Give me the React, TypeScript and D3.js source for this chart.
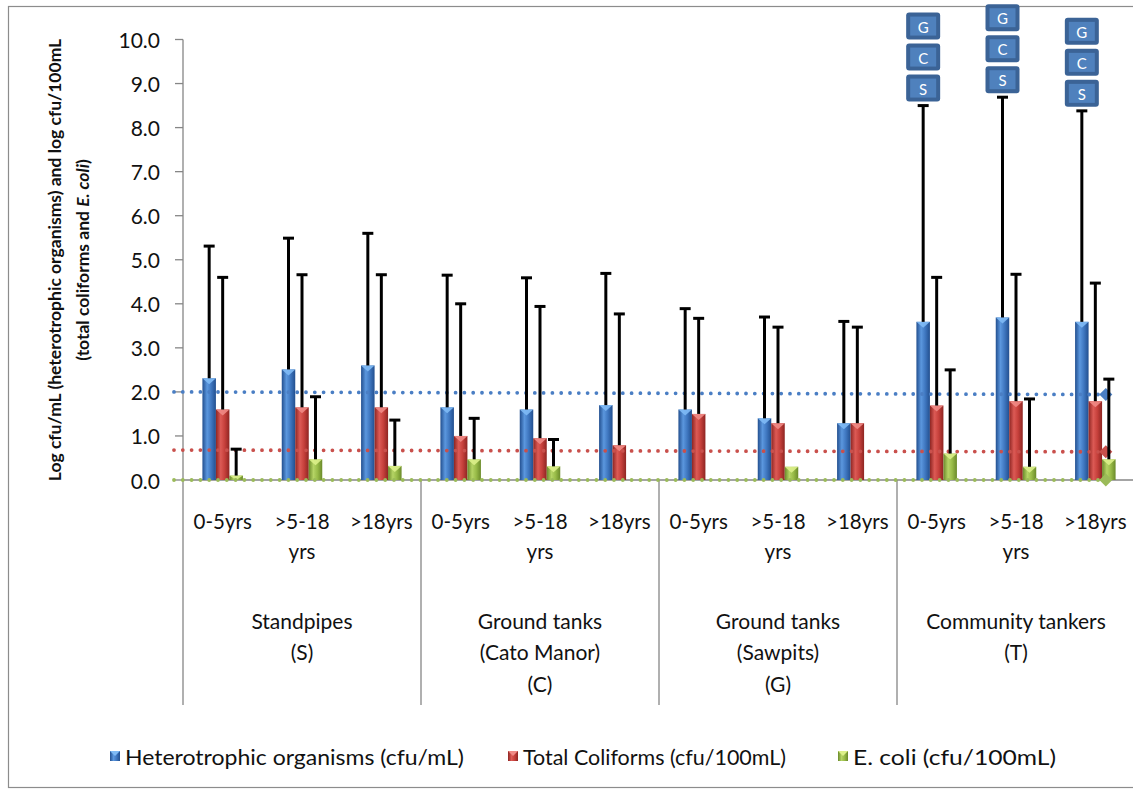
import React from "react";
import * as d3 from "d3";

const ageGroups = ["0-5yrs", ">5-18|yrs", ">18yrs"];
const sources = [
  ["Standpipes", "(S)"],
  ["Ground tanks", "(Cato Manor)", "(C)"],
  ["Ground tanks", "(Sawpits)", "(G)"],
  ["Community tankers", "(T)"],
];
const seriesNames = [
  "Heterotrophic organisms (cfu/mL)",
  "Total Coliforms (cfu/100mL)",
  "E. coli (cfu/100mL)",
];
const hetero = [2.31, 2.51, 2.6, 1.65, 1.6, 1.7, 1.6, 1.4, 1.29, 3.59, 3.69, 3.59];
const heteroUpper = [5.31, 5.49, 5.6, 4.65, 4.59, 4.69, 3.89, 3.7, 3.6, 8.5, 8.69, 8.38];
const coliform = [1.6, 1.65, 1.65, 1.0, 0.95, 0.79, 1.5, 1.29, 1.29, 1.69, 1.79, 1.79];
const coliformUpper = [4.6, 4.66, 4.66, 4.0, 3.94, 3.77, 3.67, 3.47, 3.47, 4.6, 4.67, 4.47];
const ecoli = [0.1, 0.47, 0.32, 0.47, 0.31, 0, 0, 0.3, 0, 0.6, 0.3, 0.47];
const ecoliUpper = [0.7, 1.89, 1.36, 1.4, 0.92, null, null, null, null, 2.5, 1.84, 2.29];
const guideStart = [2.0, 0.68, 0];
const guideEnd = [1.94, 0.64, 0];
const yTicks = [0, 1, 2, 3, 4, 5, 6, 7, 8, 9, 10];
const significance = ["S", "C", "G"];
const significanceCats = [9, 10, 11];

const colors = [
  { base: "#3f77c0", dark: "#224f8f", light: "#5b97de", tip: "#7fbaf5" },
  { base: "#c6403b", dark: "#8e2522", light: "#dc5a55", tip: "#f08a85" },
  { base: "#98bb48", dark: "#6a8a2a", light: "#b5d465", tip: "#dcf08a" },
];
const lineColors = ["#4a7ec4", "#c9504c", "#9bbb59"];

const FONT = "Lato, 'Open Sans', sans-serif";

export default function App() {
  const x0 = 183;
  const x1 = 1135;
  const cats = d3.range(12);
  const xBand = d3.scaleBand<number>().domain(cats).range([x0, x1]).padding(0);
  const inner = d3.scaleBand<number>().domain([0, 1, 2]).range([-20.25, 20.25]).padding(0);
  const y = d3.scaleLinear().domain([0, 10]).range([480, 39.5]);
  const values = [hetero, coliform, ecoli];
  const uppers = [heteroUpper, coliformUpper, ecoliUpper];
  const bw = inner.bandwidth();
  const groupW = xBand.bandwidth() * 3;

  const bars: any[] = [];
  const errs: any[] = [];
  cats.forEach((c) => {
    const cx = xBand(c)! + xBand.bandwidth() / 2;
    values.forEach((arr, s) => {
      const v = arr[c];
      const bx = cx + inner(s)!;
      if (v > 0) {
        const top = y(v);
        const h = y(0) - top;
        bars.push(
          <g key={`b${c}-${s}`}>
            <rect x={bx} y={top} width={bw} height={h} fill={`url(#grad${s})`} />
            <path
              d={`M${bx},${top} L${bx + bw},${top} L${bx + bw / 2},${top + Math.min(6, h)} Z`}
              fill={colors[s].tip}
              opacity={0.9}
            />
          </g>
        );
      }
      const u = uppers[s][c];
      if (u != null) {
        const ex = bx + bw / 2;
        errs.push(
          <g key={`e${c}-${s}`} stroke="#000" strokeWidth={3}>
            <line x1={ex} x2={ex} y1={y(v)} y2={y(u)} />
            <line x1={ex - 5.5} x2={ex + 5.5} y1={y(u)} y2={y(u)} />
          </g>
        );
      }
    });
  });

  const lastCat = 11;
  const guideX0 = x0 - 9;
  const guideX1 = xBand(lastCat)! + xBand.bandwidth() / 2 + inner(2)! + bw / 2 - 3;
  const legendW = [339, 263, 203];

  return (
    <svg
      width={1133}
      height={791}
      style={{ position: "absolute", left: 0, top: 0, background: "#fff" }}
      fontFamily={FONT}
    >
      <defs>
        {colors.map((c, i) => (
          <linearGradient key={i} id={`grad${i}`} x1="0" x2="1" y1="0" y2="0">
            <stop offset="0" stopColor={c.dark} />
            <stop offset="0.35" stopColor={c.light} />
            <stop offset="0.65" stopColor={c.base} />
            <stop offset="1" stopColor={c.dark} />
          </linearGradient>
        ))}
      </defs>
      <rect x={8.5} y={6.5} width={1200} height={781} fill="none" stroke="#8c8c8c" strokeWidth={1.2} />

      {/* y axis */}
      <line x1={x0} x2={x0} y1={y(10)} y2={705} stroke="#868686" strokeWidth={1.3} />
      {yTicks.map((t) => (
        <g key={t}>
          <line x1={x0 - 8} x2={x0} y1={y(t)} y2={y(t)} stroke="#868686" strokeWidth={1.3} />
          <text x={160} y={y(t)} textAnchor="end" dominantBaseline="central" fontSize={21} fill="#111">
            {t.toFixed(1)}
          </text>
        </g>
      ))}
      {/* x axis */}
      <line x1={x0} x2={1133} y1={y(0)} y2={y(0)} stroke="#868686" strokeWidth={1.3} />
      {sources.map((s, g) => {
        const gx = xBand(g * 3)!;
        return (
          <g key={g}>
            {g > 0 && <line x1={gx} x2={gx} y1={y(0)} y2={705} stroke="#868686" strokeWidth={1.3} />}
            {s.map((ln, i) => (
              <text key={i} x={gx + groupW / 2} y={620 + i * 31.5} textAnchor="middle" dominantBaseline="central" fontSize={21} fill="#111">
                {ln}
              </text>
            ))}
          </g>
        );
      })}
      {cats.map((c) => {
        const cx = xBand(c)! + xBand.bandwidth() / 2;
        const lines = ageGroups[c % 3].split("|");
        return lines.map((ln, i) => (
          <text key={`${c}-${i}`} x={cx} y={521 + i * 30} textAnchor="middle" dominantBaseline="central" fontSize={20.5} fill="#111">
            {ln}
          </text>
        ));
      })}

      {bars}

      {/* guideline dotted lines */}
      {guideStart.map((v, i) => {
        const ey = y(guideEnd[i]);
        return (
          <g key={`gl${i}`}>
            <line
              x1={guideX0}
              x2={guideX1}
              y1={y(v)}
              y2={ey}
              stroke={lineColors[i]}
              strokeWidth={3.8}
              strokeLinecap="round"
              strokeDasharray="0 8.8"
            />
            <path
              d={`M${guideX1 - 6.5},${ey} L${guideX1},${ey - 6.5} L${guideX1 + 6.5},${ey} L${guideX1},${ey + 6.5} Z`}
              fill={lineColors[i]}
            />
          </g>
        );
      })}

      {errs}

      {/* significance markers */}
      {significanceCats.map((c) => {
        const cx = xBand(c)! + xBand.bandwidth() / 2 + inner(0)! + bw / 2;
        const top = y(heteroUpper[c]);
        return significance.map((l, i) => {
          const by = top - 4 - 27 - i * 31;
          return (
            <g key={`s${c}-${i}`}>
              <rect x={cx - 17} y={by} width={34} height={27} rx={3} fill="#3b6396" />
              <rect x={cx - 13} y={by + 4} width={26} height={19} fill="#4f81bd" />
              <text x={cx} y={by + 14} textAnchor="middle" dominantBaseline="central" fontSize={15} fill="#fff">
                {l}
              </text>
            </g>
          );
        });
      })}

      {/* y title */}
      <g transform="translate(54,260) rotate(-90)">
        <text textAnchor="middle" dominantBaseline="central" fontSize={17.5} fontWeight="bold" fill="#111">
          Log cfu/mL (heterotrophic organisms) and log cfu/100mL
        </text>
      </g>
      <g transform="translate(82,260) rotate(-90)">
        <text textAnchor="middle" dominantBaseline="central" fontSize={17.5} fontWeight="bold" fill="#111">
          (total coliforms and <tspan fontStyle="italic">E. coli</tspan>)
        </text>
      </g>

      {/* legend */}
      {seriesNames.map((n, i) => {
        const lx = [110, 508, 838][i];
        return (
          <g key={n}>
            <rect x={lx} y={751} width={10} height={10} fill={`url(#grad${i})`} />
            <path d={`M${lx},751 L${lx + 10},751 L${lx + 5},756 Z`} fill={colors[i].tip} />
            <text
              x={lx + 15}
              y={756}
              dominantBaseline="central"
              fontSize={21}
              fill="#111"
              textLength={legendW[i]}
              lengthAdjust="spacingAndGlyphs"
            >
              {n}
            </text>
          </g>
        );
      })}
    </svg>
  );
}
